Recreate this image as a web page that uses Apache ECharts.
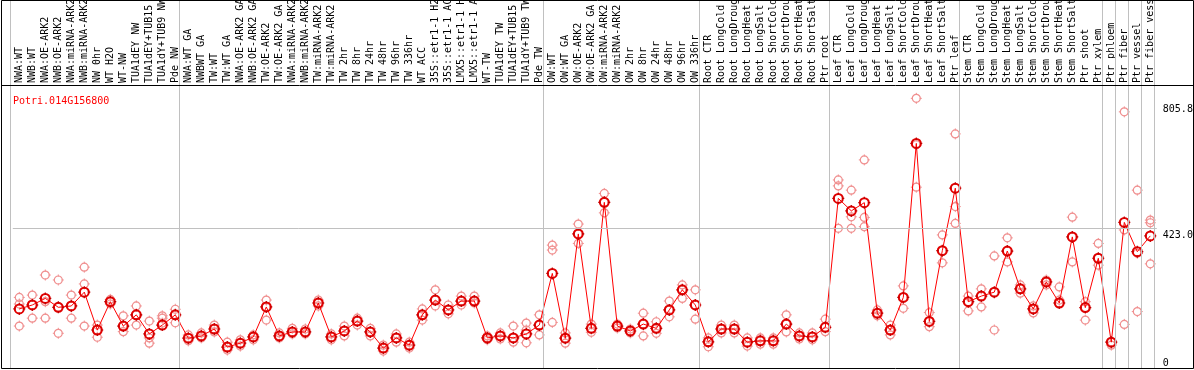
<!DOCTYPE html>
<html>
<head>
<meta charset="utf-8">
<script src="https://cdn.jsdelivr.net/npm/echarts@6/dist/echarts.min.js"></script>
<style>
html,body{margin:0;padding:0;background:#fff;}
#c{width:1194px;height:370px;}
</style>
</head>
<body>
<div id="c"></div>
<script>
const geneId = 'Potri.014G156800';
const categories = [
 'NWA:WT','NWB:WT','NWA:OE-ARK2','NWB:OE-ARK2','NWA:miRNA-ARK2','NWB:miRNA-ARK2','NW 0hr','WT H2O','WT-NW','TUA1dEY NW','TUA1dEY+TUB15 NW','TUA1dY+TUB9 NW','Pde NW',
 'NWA:WT GA','NWBWT GA','TW:WT','TW:WT GA','NWA:OE-ARK2 GA','NWB:OE-ARK2 GA','TW:OE-ARK2','TW:OE-ARK2 GA','NWA:miRNA-ARK2','NWB:miRNA-ARK2','TW:miRNA-ARK2','TW:miRNA-ARK2','TW 2hr','TW 8hr','TW 24hr','TW 48hr','TW 96hr','TW 336hr','WT ACC','35S::etr1-1 H2O','35S::etr1-1 ACC','LMX5::etr1-1 H2O','LMX5::etr1-1 ACC','WT-TW','TUA1dEY TW','TUA1dEY+TUB15 TW','TUA1dY+TUB9 TW','Pde TW',
 'OW:WT','OW:WT GA','OW:OE-ARK2','OW:OE-ARK2 GA','OW:miRNA-ARK2','OW:miRNA-ARK2','OW 2hr','OW 8hr','OW 24hr','OW 48hr','OW 96hr','OW 336hr',
 'Root CTR','Root LongCold','Root LongDrought','Root LongHeat','Root LongSalt','Root ShortCold','Root ShortDrought','Root ShortHeat','Root ShortSalt','Ptr root',
 'Leaf CTR','Leaf LongCold','Leaf LongDrought','Leaf LongHeat','Leaf LongSalt','Leaf ShortCold','Leaf ShortDrought','Leaf ShortHeat','Leaf ShortSalt','Ptr leaf',
 'Stem CTR','Stem LongCold','Stem LongDrought','Stem LongHeat','Stem LongSalt','Stem ShortCold','Stem ShortDrought','Stem ShortHeat','Stem ShortSalt','Ptr shoot','Ptr xylem',
 'Ptr phloem','Ptr fiber','Ptr vessel','Ptr fiber vessel'
];
const meanValues = [
 178,190,210,183,187,229,114,200,126,160,102,129,160,
 89,96,117,62,74,93,184,96,108,108,196,93,111,141,108,59,90,68,160,205,175,202,202,90,96,90,102,129,
 286,89,406,119,502,126,111,132,119,175,236,190,
 78,117,117,77,81,81,132,96,93,122,
 514,476,501,165,114,213,681,140,355,545,
 200,217,229,354,239,178,260,196,397,182,332,
 77,441,352,400
];
const rep1 = [
 213,220,281,266,220,305,129,207,157,187,141,157,177,
 99,105,129,77,84,99,205,105,119,117,205,102,126,150,119,68,102,77,178,236,190,217,217,96,105,126,135,160,
 372,105,436,132,529,132,105,165,139,202,251,236,
 90,129,129,90,90,90,160,105,105,147,
 570,539,631,175,129,248,818,167,403,710,
 217,239,339,394,251,187,266,245,457,200,377,
 68,777,170,448
];
const rep2 = [
 193,150,200,104,150,254,92,199,109,129,74,150,136,
 81,90,108,53,65,84,144,90,102,102,187,84,96,129,96,50,77,59,144,187,163,190,196,84,87,77,75,99,
 357,74,377,107,470,120,117,96,104,154,210,147,
 63,105,105,65,71,71,108,87,84,109,
 552,458,456,157,99,180,548,124,318,489,
 172,184,114,321,226,166,251,205,321,144,311,
 77,418,539,440
];
const rep3 = [
 126,190,150,183,187,126,114,193,126,160,90,135,160,
 90,96,117,62,74,93,184,96,108,108,196,93,111,141,108,59,90,68,160,205,175,202,202,90,96,90,114,129,
 137,89,406,119,502,126,111,132,119,175,236,190,
 78,117,117,77,81,81,132,96,93,122,
 423,423,428,165,114,213,677,140,355,438,
 200,217,229,354,239,178,260,196,397,182,332,
 78,131,347,315
];
const yTickValues = [0, 423.0, 805.8];
const gridLineValue = 423.0;
const groupBreaks = [0, 13, 41, 53, 63, 73, 84, 85, 86, 87, 88];

const MONO = 'DejaVu Sans Mono';
const tickPath = 'path://M6,0L6,2.4M6,9.6L6,12M0,6L2.4,6M9.6,6L12,6';

const repData = [];
[rep1, rep2, rep3].forEach(arr => arr.forEach((v, i) => { if (v != null) repData.push([i, v]); }));
const meanData = meanValues.map((v, i) => [i, v]);

const chart = echarts.init(document.getElementById('c'), null, {renderer: 'canvas'});
chart.setOption({
  animation: false,
  backgroundColor: '#fff',
  title: {
    text: geneId, left: 8, top: 91,
    textStyle: {fontFamily: MONO, fontSize: 10, fontWeight: 'normal', color: '#ff0000'}
  },
  grid: [
    {left: 12.8, width: 1144, top: 85, bottom: 2.5, containLabel: false, outerBoundsMode: 'none'},
    {left: 10.5, width: 1144, top: 0, bottom: 1, containLabel: false, outerBoundsMode: 'none'}
  ],
  xAxis: [
    {type: 'category', gridIndex: 0, data: categories, position: 'top', boundaryGap: true,
     axisLine: {show: false}, axisTick: {show: false}, splitLine: {show: false},
     axisLabel: {interval: 0, rotate: 90, margin: 2, hideOverlap: false, fontFamily: MONO, fontSize: 10, color: '#000'}},
    {type: 'value', gridIndex: 1, min: 0, max: 88, show: false}
  ],
  yAxis: [
    {type: 'value', gridIndex: 0, position: 'right', min: 0, max: 858.6,
     axisLine: {show: false}, axisTick: {show: false}, splitLine: {show: false},
     axisLabel: {
       customValues: yTickValues, margin: 6,
       formatter: v => v === 0 ? '{z|0}' : '{n|' + v.toFixed(1) + '}',
       rich: {
         z: {fontFamily: MONO, fontSize: 10, color: '#000', padding: [0, 0, 8, 0]},
         n: {fontFamily: MONO, fontSize: 10, color: '#000', padding: [14, 0, 0, 0]}
       }
     }},
    {type: 'value', gridIndex: 1, min: 0, max: 1, show: false}
  ],
  series: [
    {type: 'line', xAxisIndex: 1, yAxisIndex: 1, data: [], z: 1, silent: true,
     markLine: {silent: true, symbol: ['none', 'none'], label: {show: false},
       lineStyle: {color: '#c0c0c0', type: 'solid', width: 1},
       data: groupBreaks.map(b => ({xAxis: b}))}},
    {type: 'line', xAxisIndex: 0, yAxisIndex: 0, data: [], z: 1, silent: true,
     markLine: {silent: true, symbol: ['none', 'none'], label: {show: false},
       lineStyle: {color: '#c0c0c0', type: 'solid', width: 1},
       data: [{yAxis: gridLineValue}]}},
    {type: 'scatter', xAxisIndex: 0, yAxisIndex: 0, data: repData, z: 2, silent: true,
     symbol: 'circle', symbolSize: 8,
     itemStyle: {color: 'rgba(0,0,0,0)', borderColor: '#f09090', borderWidth: 1.2, opacity: 1}},
    {type: 'scatter', xAxisIndex: 0, yAxisIndex: 0, data: repData, z: 2, silent: true,
     symbol: tickPath, symbolSize: 11,
     itemStyle: {color: 'rgba(0,0,0,0)', borderColor: '#f09090', borderWidth: 1, opacity: 1}},
    {type: 'line', xAxisIndex: 0, yAxisIndex: 0, data: meanValues, z: 3,
     symbol: 'circle', symbolSize: 9, showSymbol: true,
     lineStyle: {color: '#ff0000', width: 1},
     itemStyle: {color: 'rgba(0,0,0,0)', borderColor: '#e00000', borderWidth: 2}},
    {type: 'scatter', xAxisIndex: 0, yAxisIndex: 0, data: meanData, z: 4, silent: true,
     symbol: tickPath, symbolSize: 12,
     itemStyle: {color: 'rgba(0,0,0,0)', borderColor: '#c00000', borderWidth: 1.2, opacity: 1}}
  ],
  graphic: [
    {type: 'rect', z: 100, shape: {x: 1.5, y: 0.5, width: 1192, height: 368},
     style: {fill: 'none', stroke: '#000', lineWidth: 1}},
    {type: 'line', z: 100, shape: {x1: 1.5, y1: 85.5, x2: 1193.5, y2: 85.5},
     style: {stroke: '#000', lineWidth: 1}}
  ]
});
</script>
</body>
</html>
